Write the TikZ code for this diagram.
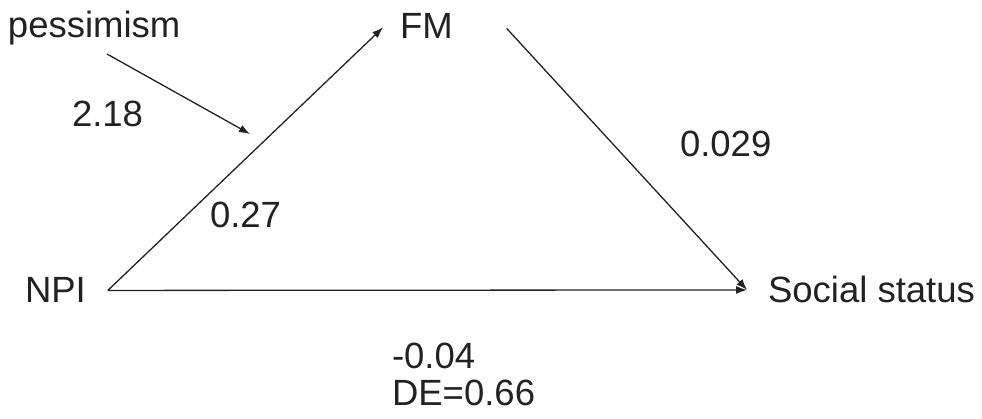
\documentclass[tikz,border=0pt]{standalone}
\usepackage{fontspec}
\setmainfont{Liberation Sans}
\usetikzlibrary{arrows.meta}
\definecolor{ink}{HTML}{222222}
\begin{document}
\begin{tikzpicture}[x=1pt,y=-1pt,
  lbl/.style={anchor=base west,inner sep=0pt,outer sep=0pt,text=ink,font=\fontsize{36.5}{44}\selectfont},
  arr/.style={draw=ink,line width=1.3pt,-{Latex[length=11pt,width=8pt]}}]
\useasboundingbox (0,0) rectangle (982,419);
\node[lbl] (pess) at (8,38) {pessimism};
\node[lbl] (fm) at (400,39) {FM};
\node[lbl] (npi) at (25,303) {NPI};
\node[lbl] (soc) at (768,303) {Social status};
\node[lbl] (l218) at (72,127) {2.18};
\node[lbl] (l029) at (680,157) {0.029};
\node[lbl] (l027) at (210,228) {0.27};
\node[lbl] (l004) at (392,368) {-0.04};
\node[lbl] (lde) at (392,405) {DE=0.66};
\coordinate (mod) at (250,134);
\draw[arr] ([xshift=99pt,yshift=-16pt]pess.base west) -- (mod);
\draw[arr] ([xshift=22pt]npi.east) -- ([xshift=-17pt,yshift=-1pt]fm.west);
\draw[arr] ([xshift=54pt,yshift=-2pt]fm.east) -- ([xshift=-21pt]soc.west);
\draw[arr] ([xshift=22pt]npi.east) -- ([xshift=-21pt]soc.west);
\end{tikzpicture}
\end{document}
